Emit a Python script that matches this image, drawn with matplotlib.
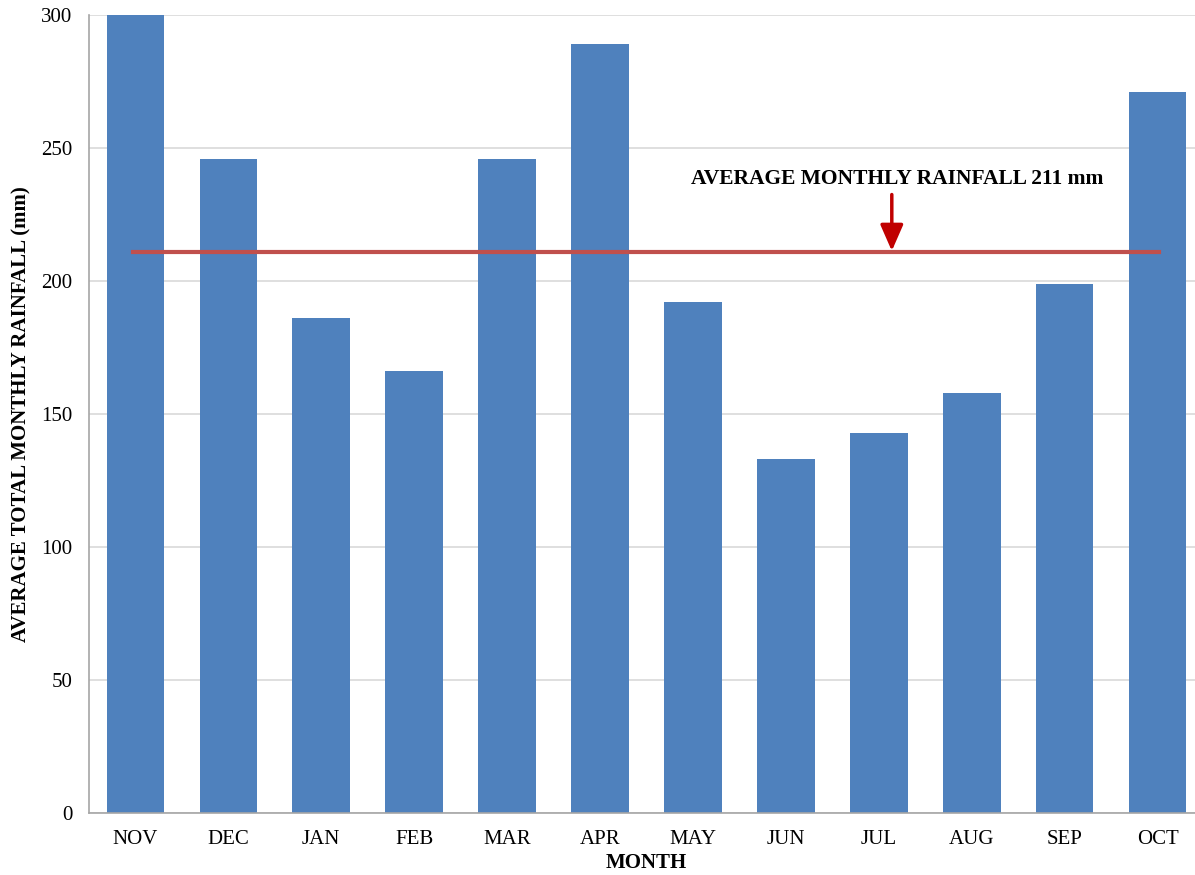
import matplotlib.pyplot as plt

months = ["NOV", "DEC", "JAN", "FEB", "MAR", "APR", "MAY", "JUN", "JUL", "AUG", "SEP", "OCT"]
rainfall = [300, 246, 186, 166, 246, 289, 192, 133, 143, 158, 199, 271]
avg_rainfall = 211

plt.rcParams["font.family"] = ["Liberation Serif", "DejaVu Serif"]

fig = plt.figure(figsize=(11.95, 8.75), dpi=100)
# axes run a little past the right edge, like the cropped original
ax = fig.add_axes([89 / 1195, 62 / 875, 1115 / 1195, 798 / 875])

x = range(len(months))
ax.bar(x, rainfall, width=0.62, color="#4F81BD", zorder=2)
ax.plot([-0.03, 11.02], [avg_rainfall, avg_rainfall], color="#C0504D", lw=3, zorder=3)

ax.annotate("", xy=(8.14, avg_rainfall + 0.3), xytext=(8.14, 232.5),
            arrowprops=dict(arrowstyle="-|>,head_width=0.7,head_length=1.6",
                            color="#C00000", lw=2.5, shrinkA=0, shrinkB=0), zorder=4)
ax.text(8.2, 238.5, f"AVERAGE MONTHLY RAINFALL {avg_rainfall} mm", ha="center", va="center",
        fontsize=15.5, fontweight="bold")

ax.set_xlim(-0.5, 11.5)
ax.set_ylim(0, 300)
ax.set_yticks(range(0, 301, 50))
ax.set_xticks(list(x))
ax.set_xticklabels(months)
ax.tick_params(length=0, labelsize=15, pad=12)
ax.tick_params(axis="y", pad=12)
ax.yaxis.grid(True, color="#D9D9D9", lw=1.2, zorder=0)
ax.set_axisbelow(True)
for s in ["top", "right"]:
    ax.spines[s].set_visible(False)
for s in ["left", "bottom"]:
    ax.spines[s].set_color("#A6A6A6")
    ax.spines[s].set_linewidth(1.2)

ax.set_xlabel("MONTH", fontsize=15, fontweight="bold", labelpad=3)
ax.set_ylabel("AVERAGE TOTAL MONTHLY RAINFALL (mm)", fontsize=15, fontweight="bold", labelpad=7)

fig.savefig("out.png", dpi=100)
